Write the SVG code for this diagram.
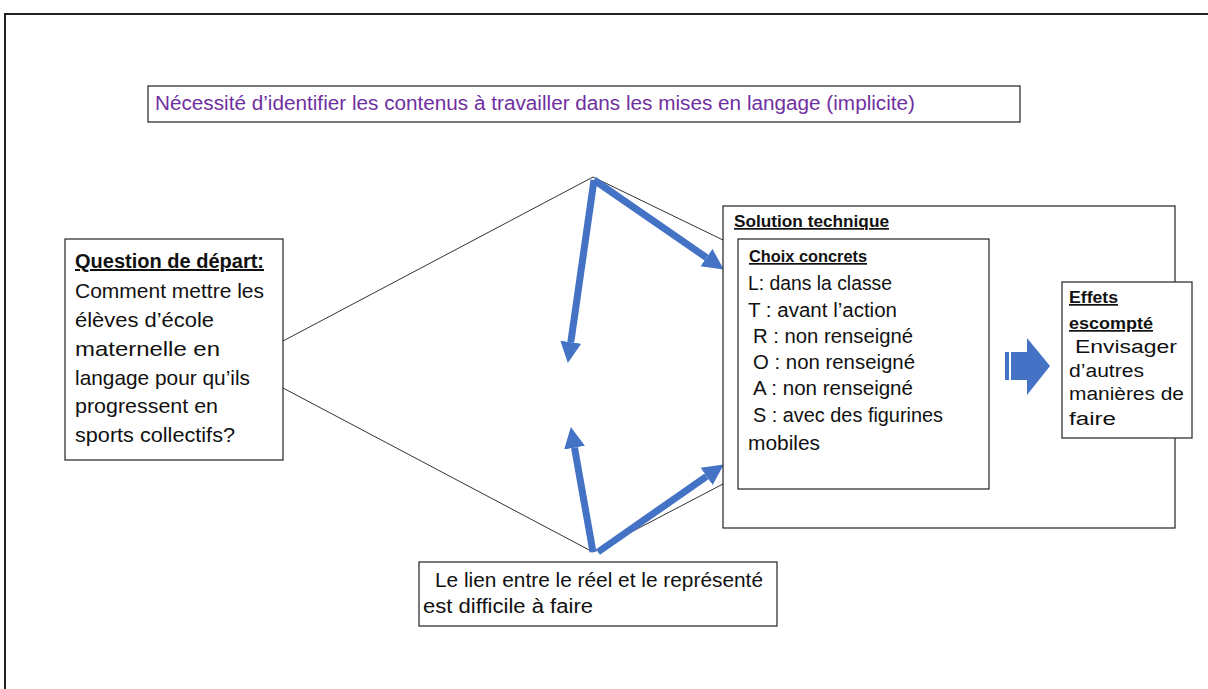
<svg xmlns="http://www.w3.org/2000/svg" width="1208" height="689" viewBox="0 0 1208 689">
<style>
.box{fill:#fff;stroke:#222;stroke-width:1.2}
.t{font-family:"Liberation Sans",Arial,sans-serif;font-size:20px;fill:#111}
.b{font-weight:bold;text-decoration:underline}
.thin{stroke:#333;stroke-width:1;fill:none}
.blue{stroke:#4472C4;stroke-width:7;fill:none;marker-end:url(#ah)}
</style>
<defs>
<marker id="ah" viewBox="0 0 10 10" refX="0" refY="5" markerWidth="3" markerHeight="3.2" orient="auto">
<path d="M0,0 L10,5 L0,10 z" fill="#4472C4"/>
</marker>
</defs>
<rect width="1208" height="689" fill="#fff"/>
<path d="M5,689 V14 H1208" fill="none" stroke="#222" stroke-width="2"/>

<g id="connectors">
<line class="thin" x1="283" y1="341" x2="593" y2="177"/>
<line class="thin" x1="593" y1="177" x2="723" y2="240"/>
<line class="thin" x1="283" y1="388" x2="593" y2="552"/>
<line class="thin" x1="593" y1="552" x2="723" y2="484"/>
<line class="blue" x1="594" y1="180" x2="570.8" y2="342.2"/>
<line class="blue" x1="594" y1="180" x2="706.5" y2="257.6"/>
<line class="blue" x1="593" y1="552" x2="574.5" y2="447.7"/>
<line class="blue" x1="598" y1="552" x2="706.6" y2="476.4"/>
</g>

<g id="top-note">
<rect class="box" x="148" y="86" width="872" height="36"/>
<text class="t" x="155" y="110" style="fill:#7030A0" textLength="760" lengthAdjust="spacingAndGlyphs">Nécessité d’identifier les contenus à travailler dans les mises en langage (implicite)</text>
</g>

<g id="question">
<rect class="box" x="65" y="239" width="218" height="221"/>
<text class="t b" x="75" y="268" textLength="189" lengthAdjust="spacingAndGlyphs">Question de départ:</text>
<text class="t" x="75" y="298" style="font-size:21px" textLength="189" lengthAdjust="spacingAndGlyphs">Comment mettre les</text>
<text class="t" x="75" y="327" style="font-size:21px" textLength="139" lengthAdjust="spacingAndGlyphs">élèves d’école</text>
<text class="t" x="75" y="356" style="font-size:21px" textLength="145" lengthAdjust="spacingAndGlyphs">maternelle en</text>
<text class="t" x="75" y="385" style="font-size:21px" textLength="175" lengthAdjust="spacingAndGlyphs">langage pour qu’ils</text>
<text class="t" x="75" y="413" style="font-size:21px" textLength="143" lengthAdjust="spacingAndGlyphs">progressent en</text>
<text class="t" x="75" y="442" style="font-size:21px" textLength="160" lengthAdjust="spacingAndGlyphs">sports collectifs?</text>
</g>

<g id="solution">
<rect class="box" x="723" y="206" width="452" height="322"/>
<text class="t b" x="734" y="227" style="font-size:17px" textLength="155" lengthAdjust="spacingAndGlyphs">Solution  technique</text>
</g>

<g id="choix">
<rect class="box" x="738" y="239" width="251" height="250"/>
<text class="t b" x="749" y="262" style="font-size:17px" textLength="118" lengthAdjust="spacingAndGlyphs">Choix concrets</text>
<text class="t" x="748" y="290" textLength="144" lengthAdjust="spacingAndGlyphs">L: dans la classe</text>
<text class="t" x="748" y="317" textLength="149" lengthAdjust="spacingAndGlyphs">T : avant l’action</text>
<text class="t" x="753" y="343" textLength="160" lengthAdjust="spacingAndGlyphs">R : non renseigné</text>
<text class="t" x="753" y="369" textLength="162" lengthAdjust="spacingAndGlyphs">O : non renseigné</text>
<text class="t" x="753" y="395" textLength="160" lengthAdjust="spacingAndGlyphs">A : non renseigné</text>
<text class="t" x="753" y="422" textLength="190" lengthAdjust="spacingAndGlyphs">S : avec des figurines</text>
<text class="t" x="748" y="450" textLength="72" lengthAdjust="spacingAndGlyphs">mobiles</text>
</g>

<g id="block-arrow" fill="#4472C4">
<rect x="1005" y="352" width="4" height="28"/>
<rect x="1011" y="352" width="17" height="28"/>
<polygon points="1027,338 1050,366 1027,395"/>
</g>

<g id="effets">
<rect class="box" x="1062" y="282" width="130" height="156"/>
<text class="t b" x="1069" y="303" style="font-size:17px" textLength="49" lengthAdjust="spacingAndGlyphs">Effets</text>
<text class="t b" x="1069" y="329" style="font-size:17px" textLength="84" lengthAdjust="spacingAndGlyphs">escompté</text>
<text class="t" x="1075" y="353" style="font-size:18px" textLength="102" lengthAdjust="spacingAndGlyphs">Envisager</text>
<text class="t" x="1069" y="377" style="font-size:18px" textLength="75" lengthAdjust="spacingAndGlyphs">d’autres</text>
<text class="t" x="1069" y="400" style="font-size:18px" textLength="115" lengthAdjust="spacingAndGlyphs">manières de</text>
<text class="t" x="1069" y="425" style="font-size:18px" textLength="47" lengthAdjust="spacingAndGlyphs">faire</text>
</g>

<g id="lien">
<rect class="box" x="419" y="562" width="358" height="64"/>
<text class="t" x="435" y="587" textLength="328" lengthAdjust="spacingAndGlyphs">Le lien entre le réel et le représenté</text>
<text class="t" x="423" y="613" textLength="170" lengthAdjust="spacingAndGlyphs">est difficile à faire</text>
</g>
</svg>
